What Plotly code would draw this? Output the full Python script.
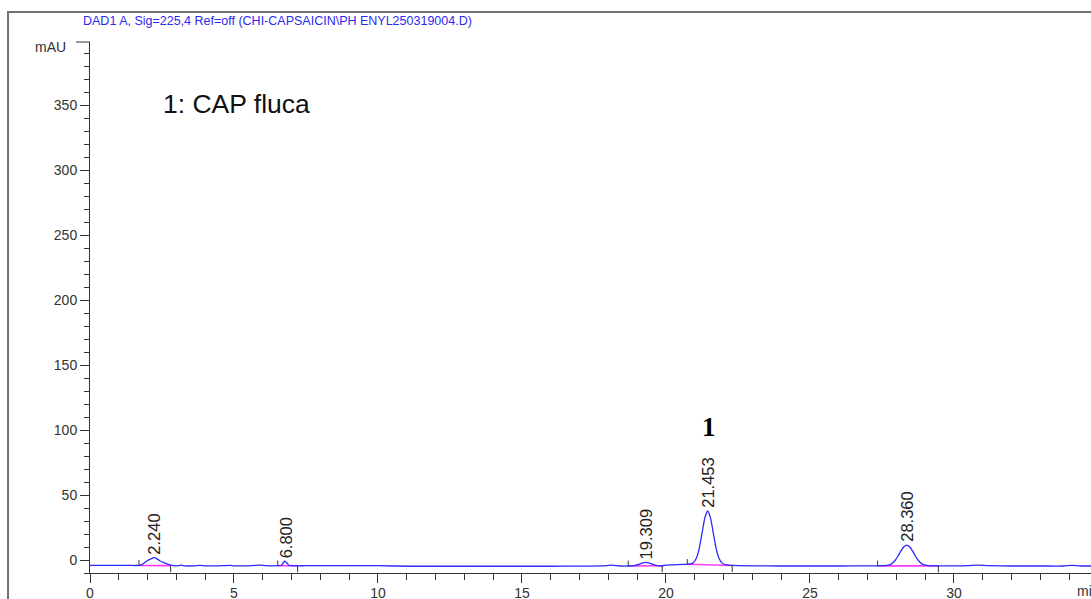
import plotly.graph_objects as go

# ---- chromatogram trace (time in min, signal in mAU) ----
time_min = [0.0, 0.5, 1.0, 1.5, 1.70, 1.80, 1.90, 2.00, 2.10, 2.22, 2.30, 2.38, 2.45, 2.55,
            2.65, 2.75, 2.85, 3.00, 3.18, 3.30, 3.60, 3.82, 4.00, 4.40, 4.86, 5.00, 5.40,
            5.90, 6.10, 6.50, 6.65, 6.72, 6.77, 6.84, 6.90, 7.00, 7.50, 8.00, 9.00, 10.00,
            11.10, 12.00, 13.00, 14.00, 15.00, 16.00, 17.00, 17.80, 18.10, 18.40, 18.70,
            18.90, 19.00, 19.10, 19.20, 19.30, 19.40, 19.50, 19.60, 19.70, 19.85, 20.00,
            20.30, 20.60, 20.75, 20.85, 20.95, 21.05, 21.15, 21.25, 21.35, 21.45, 21.55,
            21.65, 21.75, 21.85, 21.95, 22.05, 22.15, 22.30, 23.00, 24.00, 25.00, 26.00,
            27.00, 27.30, 27.56, 27.66, 27.76, 27.86, 27.96, 28.06, 28.16, 28.26, 28.36,
            28.46, 28.56, 28.66, 28.76, 28.86, 28.96, 29.06, 29.16, 29.40, 30.00, 30.50,
            30.80, 31.20, 32.00, 33.00, 33.80, 34.10, 34.40, 34.76]
signal_mau = [-4.2, -4.2, -4.2, -4.2, -4.2, -3.6, -1.9, -0.4, 0.7, 1.8, 1.3, 0.1, -1.0, -1.9,
              -2.8, -3.6, -4.2, -4.5, -4.0, -4.5, -4.5, -4.1, -4.5, -4.5, -4.1, -4.5, -4.5,
              -4.0, -4.3, -4.4, -4.0, -1.8, -0.8, -2.3, -4.0, -4.4, -4.4, -4.4, -4.4, -4.4,
              -4.8, -4.8, -4.8, -4.8, -4.8, -4.8, -4.7, -4.5, -4.0, -4.6, -4.6,
              -4.3, -3.8, -3.0, -2.2, -1.8, -2.2, -3.0, -3.8, -4.3, -4.5, -4.0,
              -3.7, -3.3, -3.3, -3.0, -2.1, 1.1, 8.4, 20.2, 32.3, 37.7, 32.0,
              19.9, 8.2, 1.0, -2.4, -3.5, -3.8, -4.2, -4.5, -4.6, -4.6, -4.6,
              -4.5, -4.5, -4.4, -4.2, -3.7, -2.5, -0.2, 3.1, 7.0, 10.2, 11.5,
              10.2, 7.0, 3.1, -0.2, -2.5, -3.7, -4.2, -4.4, -4.5, -4.5, -4.3,
              -3.9, -4.3, -4.6, -4.6, -4.6, -4.1, -4.6, -4.6]

# ---- integrated peaks ----
peak_labels = ["2.240", "6.800", "19.309", "21.453", "28.360"]
peak_rt = [2.240, 6.800, 19.309, 21.453, 28.360]
peak_apex = [1.8, -0.8, -1.8, 37.7, 11.5]
int_start = [1.70, 6.52, 18.69, 20.74, 27.35]
int_end = [2.80, 7.21, 19.87, 22.30, 29.46]
base_start = [-4.2, -4.4, -4.5, -3.3, -4.5]
base_end = [-4.3, -4.4, -4.4, -4.2, -4.5]

title_text = "DAD1 A, Sig=225,4 Ref=off (CHI-CAPSAICIN\\PH ENYL250319004.D)"
legend_text = "1: CAP fluca"
compound_label = "1"
compound_rt = 21.49
compound_y = 102.3
legend_x = 2.48
legend_y = 350.8

x_range = [0, 34.76]
y_range = [-10, 398.5]

FONT = "Liberation Sans, Arial, sans-serif"

fig = go.Figure()

# integration baselines (magenta)
bx, by = [], []
for s, e, ys, ye in zip(int_start, int_end, base_start, base_end):
    bx += [s, e, None]
    by += [ys, ye, None]
fig.add_trace(go.Scatter(x=bx, y=by, mode="lines",
                         line=dict(color="#ff3cff", width=1.6), hoverinfo="skip"))

# signal
fig.add_trace(go.Scatter(x=time_min, y=signal_mau, mode="lines",
                         line=dict(color="#2a2aff", width=1.3, shape="spline", smoothing=0.6)))

shapes = []
# integration event ticks
for s, e, ys, ye in zip(int_start, int_end, base_start, base_end):
    shapes.append(dict(type="line", xref="x", yref="y", x0=s, x1=s, y0=ys, y1=ys + 4,
                       line=dict(color="#333333", width=1)))
    shapes.append(dict(type="line", xref="x", yref="y", x0=e, x1=e, y0=ye, y1=ye - 5,
                       line=dict(color="#333333", width=1)))
# outer frame
shapes.append(dict(type="rect", xref="paper", yref="paper",
                   x0=-0.0819, x1=1.3, y0=-0.3, y1=1.0565,
                   line=dict(color="#707070", width=2), fillcolor="rgba(0,0,0,0)",
                   layer="below"))
# top end tick of y-axis
shapes.append(dict(type="line", xref="paper", yref="paper", x0=-0.014, x1=0, y0=1, y1=1,
                   line=dict(color="#333333", width=1)))

annotations = []
for lab, rt, ap in zip(peak_labels, peak_rt, peak_apex):
    annotations.append(dict(x=rt, y=ap, xref="x", yref="y", text=lab, textangle=-90,
                            showarrow=False, xanchor="center", yanchor="bottom", yshift=1,
                            font=dict(family=FONT, size=16.5, color="#222222")))
annotations.append(dict(x=compound_rt, y=compound_y, xref="x", yref="y", text="<b>" + compound_label + "</b>",
                        showarrow=False, xanchor="center", yanchor="middle",
                        font=dict(family="Liberation Serif, Times New Roman, serif", size=27, color="#000000")))
annotations.append(dict(x=legend_x, y=legend_y, xref="x", yref="y", text=legend_text,
                        showarrow=False, xanchor="left", yanchor="middle",
                        font=dict(family=FONT, size=26.5, color="#111111")))
annotations.append(dict(x=0, y=1, xref="paper", yref="paper", text=title_text,
                        showarrow=False, xanchor="center", yanchor="middle",
                        xshift=187, yshift=21.3,
                        font=dict(family=FONT, size=12.5, color="#2b2bf0")))
annotations.append(dict(x=0, y=1, xref="paper", yref="paper", text="mAU",
                        showarrow=False, xanchor="right", yanchor="middle",
                        xshift=-22, yshift=-5,
                        font=dict(family=FONT, size=14, color="#333333")))
annotations.append(dict(x=34.2, y=0, xref="x", yref="paper", text="min",
                        showarrow=False, xanchor="left", yanchor="middle",
                        yshift=-18,
                        font=dict(family=FONT, size=14, color="#333333")))

fig.update_layout(
    width=1091, height=599,
    margin=dict(l=90, r=0, t=42, b=26),
    paper_bgcolor="white", plot_bgcolor="white",
    showlegend=False,
    shapes=shapes, annotations=annotations,
    font=dict(family=FONT, size=14, color="#333333"),
)
fig.update_xaxes(range=x_range, tick0=0, dtick=5, ticks="outside", ticklen=9,
                 tickcolor="#333333", showline=True, linecolor="#333333", linewidth=1,
                 showgrid=False, zeroline=False, automargin=False, ticklabelstandoff=-2,
                 minor=dict(dtick=1, ticks="outside", ticklen=6, tickcolor="#333333"),
                 tickfont=dict(family=FONT, size=14, color="#333333"))
fig.update_yaxes(range=y_range, tick0=0, dtick=50, ticks="outside", ticklen=9,
                 tickcolor="#333333", showline=True, linecolor="#333333", linewidth=1,
                 showgrid=False, zeroline=False, automargin=False,
                 minor=dict(dtick=10, tick0=0, ticks="outside", ticklen=5, tickcolor="#333333"),
                 tickfont=dict(family=FONT, size=14, color="#333333"))

fig.write_html("out.html")
